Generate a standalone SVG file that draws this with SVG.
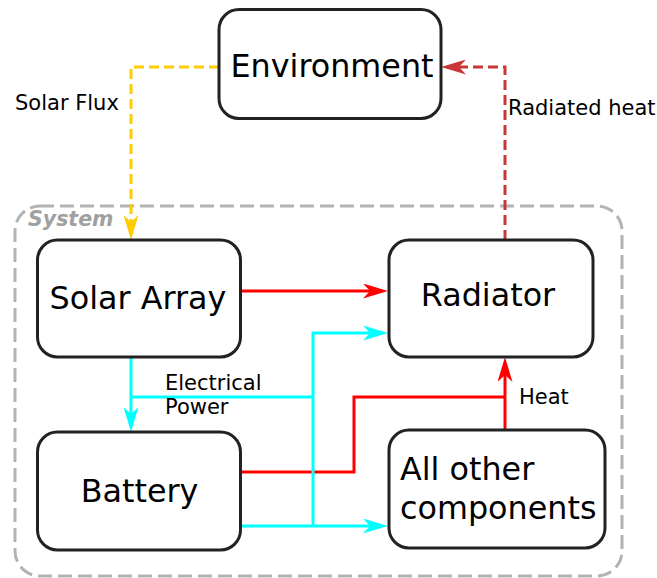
<svg xmlns="http://www.w3.org/2000/svg" width="657" height="578" viewBox="0 0 657 578">
<style>
.box{fill:#fff;stroke:#222;stroke-width:3}
.big{font-family:"DejaVu Sans",Verdana,sans-serif;font-size:31.8px;fill:#000}
.small{font-family:"DejaVu Sans",Verdana,sans-serif;font-size:21px;fill:#000}
.ln{fill:none;stroke-width:3}
</style>
<defs>
<marker id="aY" markerUnits="userSpaceOnUse" viewBox="0 0 25 15" refX="19" refY="7.5" markerWidth="25" markerHeight="15" orient="auto"><path d="M0,0 L25,7.5 L0,15 L7,7.5 Z" fill="#ffcc00"/></marker>
<marker id="aD" markerUnits="userSpaceOnUse" viewBox="0 0 25 15" refX="19" refY="7.5" markerWidth="25" markerHeight="15" orient="auto"><path d="M0,0 L25,7.5 L0,15 L7,7.5 Z" fill="#c83737"/></marker>
<marker id="aR" markerUnits="userSpaceOnUse" viewBox="0 0 25 15" refX="19" refY="7.5" markerWidth="25" markerHeight="15" orient="auto"><path d="M0,0 L25,7.5 L0,15 L7,7.5 Z" fill="#ff0000"/></marker>
<marker id="aC" markerUnits="userSpaceOnUse" viewBox="0 0 25 15" refX="19" refY="7.5" markerWidth="25" markerHeight="15" orient="auto"><path d="M0,0 L25,7.5 L0,15 L7,7.5 Z" fill="#00ffff"/></marker>
</defs>
<g id="system">
<rect x="15" y="206" width="607" height="370" rx="25" fill="none" stroke="#b3b3b3" stroke-width="3" stroke-dasharray="14,6"/>
<text x="28" y="226" font-family="'DejaVu Sans',Verdana,sans-serif" font-size="20.5" font-weight="bold" font-style="italic" fill="#a0a0a0">System</text>
</g>
<g id="connectors">
<path class="ln" d="M219,67 H131 V234" stroke="#ffcc00" stroke-dasharray="10,5" marker-end="url(#aY)"/>
<path class="ln" d="M505,240 V67 H447" stroke="#c83737" stroke-dasharray="10,5" marker-end="url(#aD)"/>
<path class="ln" d="M241,291 H382" stroke="#ff0000" marker-end="url(#aR)"/>
<path class="ln" d="M241,472 H354 V397 H505" stroke="#ff0000"/>
<path class="ln" d="M505,430 V363" stroke="#ff0000" marker-end="url(#aR)"/>
<path class="ln" d="M131,358 V426" stroke="#00ffff" marker-end="url(#aC)"/>
<path class="ln" d="M131,397 H313" stroke="#00ffff"/>
<path class="ln" d="M313,526 V333 H382" stroke="#00ffff" marker-end="url(#aC)"/>
<path class="ln" d="M241,526 H382" stroke="#00ffff" marker-end="url(#aC)"/>
<text class="small" x="15" y="110">Solar Flux</text>
<text class="small" x="508" y="115">Radiated heat</text>
<text class="small" x="165" y="390">Electrical</text>
<text class="small" x="165" y="414">Power</text>
<text class="small" x="519" y="404">Heat</text>
</g>
<g id="environment">
<rect class="box" x="219" y="9.5" width="222" height="109" rx="20"/>
<text class="big" x="332" y="77" text-anchor="middle">Environment</text>
</g>
<g id="solar-array">
<rect class="box" x="37.5" y="240" width="203" height="117" rx="20"/>
<text class="big" x="138" y="309" text-anchor="middle">Solar Array</text>
</g>
<g id="radiator">
<rect class="box" x="389" y="240" width="204" height="117" rx="20"/>
<text class="big" x="488" y="306" text-anchor="middle">Radiator</text>
</g>
<g id="battery">
<rect class="box" x="37.5" y="432" width="203" height="118" rx="20"/>
<text class="big" x="139.5" y="502" text-anchor="middle">Battery</text>
</g>
<g id="all-other">
<rect class="box" x="389" y="430" width="216" height="118" rx="20"/>
<text class="big" x="400" y="480">All other</text>
<text class="big" x="400" y="519">components</text>
</g>
</svg>
